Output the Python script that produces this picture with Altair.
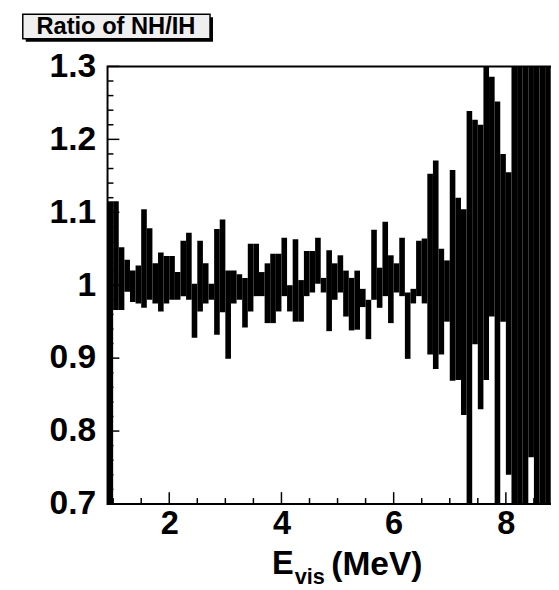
import altair as alt
import pandas as pd

# ---- data ----
bin_width = 0.1
first_edge = 0.9
low = [0.55, 0.966, 0.966, 0.991, 0.977, 0.975, 0.969, 0.980, 0.975, 0.964,
       0.975, 0.980, 0.980, 0.985, 0.980, 0.928, 0.964, 0.975, 0.980, 0.932,
       0.963, 0.899, 0.975, 0.980, 0.942, 0.964, 0.985, 0.985, 0.948, 0.948,
       0.964, 0.985, 0.964, 0.950, 0.950, 0.985, 0.990, 1.002, 0.990, 0.937,
       0.980, 0.990, 0.957, 0.938, 0.939, 0.970, 0.926, 0.980, 0.969, 0.985,
       0.948, 0.990, 0.985, 0.899, 0.975, 0.985, 0.975, 0.905, 0.885, 0.905,
       0.950, 0.869, 0.870, 0.822, 0.55, 0.919, 0.830, 0.870, 0.957, 0.55,
       0.950, 0.740, 0.55, 0.55, 0.55, 0.764, 0.55, 0.55, 0.55]
high = [1.115, 1.115, 1.052, 1.035, 1.020, 1.027, 1.104, 1.078, 1.030, 1.045,
        1.040, 1.040, 1.018, 1.061, 1.072, 1.002, 1.061, 1.030, 1.002, 1.077,
        1.090, 1.020, 1.020, 1.015, 1.010, 1.057, 1.057, 1.018, 1.030, 1.043,
        1.043, 1.065, 1.000, 1.063, 1.007, 1.047, 1.047, 1.065, 1.010, 1.048,
        1.030, 1.041, 1.020, 1.010, 1.020, 0.995, 0.980, 1.076, 1.024, 1.087,
        1.041, 1.030, 1.065, 0.990, 0.995, 1.061, 1.064, 1.153, 1.171, 1.050,
        1.034, 1.158, 1.120, 1.104, 1.239, 1.227, 1.220, 1.350, 1.286, 1.252,
        1.180, 1.155, 1.350, 1.350, 1.350, 1.350, 1.350, 1.350, 1.350]

x_major = [2, 4, 6, 8]
x_minor = [1.0, 1.5, 2.5, 3.0, 3.5, 4.5, 5.0, 5.5, 6.5, 7.0, 7.5, 8.5]
y_major = [0.7, 0.8, 0.9, 1.0, 1.1, 1.2, 1.3]
y_minor = [0.72, 0.74, 0.76, 0.78, 0.82, 0.84, 0.86, 0.88, 0.92, 0.94, 0.96, 0.98,
           1.02, 1.04, 1.06, 1.08, 1.12, 1.14, 1.16, 1.18, 1.22, 1.24, 1.26, 1.28]

title_text = "Ratio of NH/IH"

# ---- frames ----
starts = [round(first_edge + bin_width * i, 3) for i in range(len(low))]
bins = pd.DataFrame({
    "x0": starts,
    "x1": [s + bin_width for s in starts],
    "lo": low,
    "hi": high,
})

W, H = 453, 444
FONT = "Liberation Sans"
xs = alt.Scale(domain=[0.9, 0.9 + W / 56.93], nice=False, zero=False)
ys = alt.Scale(domain=[0.7, 1.3], nice=False, zero=False)

bars = alt.Chart(bins).mark_rect(color="black", clip=True).encode(
    x=alt.X("x0:Q", scale=xs, axis=alt.Axis(
        values=x_major, format="d", ticks=False, domain=False, grid=False,
        labelFont=FONT, labelFontWeight="bold", labelFontSize=33,
        labelColor="black", labelPadding=4, title=None)),
    x2="x1:Q",
    y=alt.Y("lo:Q", scale=ys, axis=alt.Axis(
        values=y_major, format=".1~f", ticks=False, domain=False, grid=False,
        labelFont=FONT, labelFontWeight="bold", labelFontSize=34,
        labelColor="black", labelPadding=12, title=None)),
    y2="hi:Q",
)

def yticks(vals, length):
    return alt.Chart(pd.DataFrame({"v": vals})).mark_rule(
        color="black", strokeWidth=1.5).encode(
        y=alt.Y("v:Q", scale=ys),
        x=alt.value(0), x2=alt.value(length))

def xticks(vals, length):
    return alt.Chart(pd.DataFrame({"v": vals})).mark_rule(
        color="black", strokeWidth=1.5).encode(
        x=alt.X("v:Q", scale=xs),
        y=alt.value(H), y2=alt.value(H - length))

one = pd.DataFrame({"t": [title_text]})
shadow = alt.Chart(one).mark_rect(color="black").encode(
    x=alt.value(-83), x2=alt.value(107), y=alt.value(-50), y2=alt.value(-25))
box = alt.Chart(one).mark_rect(fill="#efefef", stroke="black", strokeWidth=1.5).encode(
    x=alt.value(-86), x2=alt.value(104), y=alt.value(-53), y2=alt.value(-28))
title = alt.Chart(one).mark_text(font=FONT, fontWeight="bold", fontSize=24,
                                 color="black", align="center", baseline="alphabetic").encode(
    x=alt.value(8.5), y=alt.value(-32.5), text="t:N")

xt = pd.DataFrame({"a": ["E"], "b": ["vis"], "c": ["(MeV)"]})
t_e = alt.Chart(xt).mark_text(font=FONT, fontWeight="bold", fontSize=33, color="black",
                              align="left", baseline="alphabetic").encode(
    x=alt.value(167), y=alt.value(515), text="a:N")
t_vis = alt.Chart(xt).mark_text(font=FONT, fontWeight="bold", fontSize=22, color="black",
                                align="left", baseline="alphabetic").encode(
    x=alt.value(190), y=alt.value(525), text="b:N")
t_mev = alt.Chart(xt).mark_text(font=FONT, fontWeight="bold", fontSize=34, color="black",
                                align="left", baseline="alphabetic").encode(
    x=alt.value(227), y=alt.value(516), text="c:N")

chart = alt.layer(
    bars,
    yticks(y_major, 12), yticks(y_minor, 6),
    xticks(x_major, 12), xticks(x_minor, 6),
    shadow, box, title, t_e, t_vis, t_mev,
).properties(
    width=W, height=H,
    autosize=alt.AutoSizeParams(type="none"),
    padding={"left": 101, "top": 55, "right": -3, "bottom": 83},
).configure_view(stroke="black", strokeWidth=2)

chart.save("out.html", embed_options={"renderer": "svg", "actions": False})
